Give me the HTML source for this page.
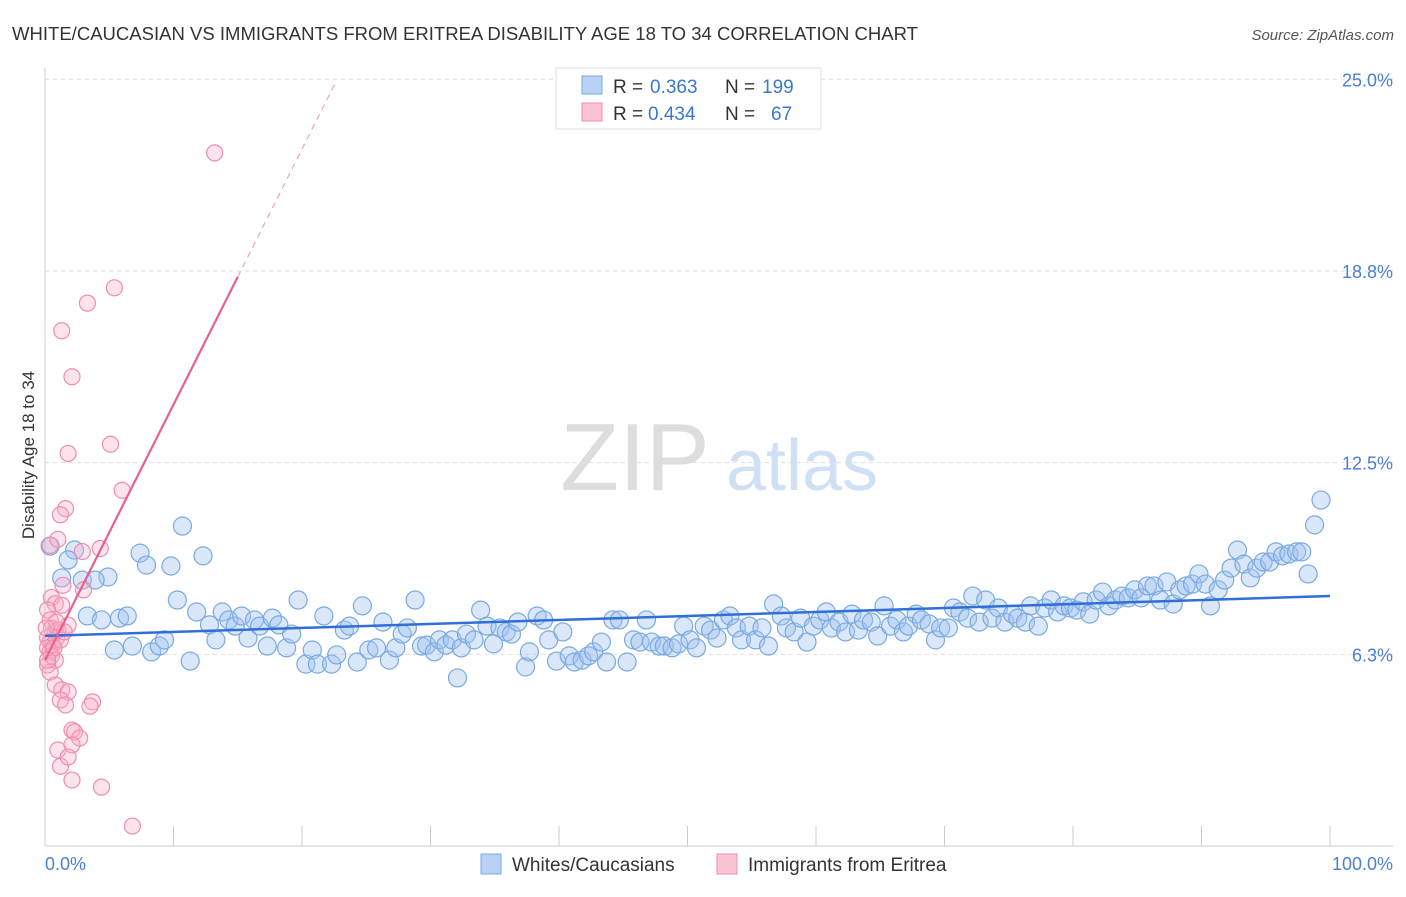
<!DOCTYPE html>
<html><head><meta charset="utf-8"><style>
body{margin:0;background:#fff;font-family:"Liberation Sans",sans-serif}
svg text{font-family:"Liberation Sans",sans-serif}
</style></head><body>
<svg id="c" width="1406" height="892">
<text x="12" y="40" font-size="18" fill="#333" textLength="906" lengthAdjust="spacingAndGlyphs">WHITE/CAUCASIAN VS IMMIGRANTS FROM ERITREA DISABILITY AGE 18 TO 34 CORRELATION CHART</text>
<text x="1394" y="40" font-size="15" fill="#555" font-style="italic" text-anchor="end">Source: ZipAtlas.com</text>
<g id="grid"></g>
<g><text x="635" y="490" font-size="96" fill="#ddd" text-anchor="middle" font-family="Liberation Serif">ZIP</text><text x="802" y="490" font-size="72" fill="#cfe0f5" text-anchor="middle">atlas</text></g>
<text transform="translate(34,455) rotate(-90)" font-size="17" fill="#333" text-anchor="middle">Disability Age 18 to 34</text>
<g id="marks"></g>
<g>
<rect x="556" y="68" width="265" height="61" fill="#fff" stroke="#ddd"/>
<rect x="582" y="76" width="20" height="18" fill="#b8d2f5" stroke="#7aa9e0"/>
<text x="613" y="93" font-size="19" fill="#333">R =</text><text x="650" y="93" font-size="19" fill="#3a78d0">0.363</text>
<text x="725" y="93" font-size="19" fill="#333">N =</text><text x="762" y="93" font-size="19" fill="#3a78d0">199</text>
<rect x="582" y="103" width="20" height="18" fill="#fac4d5" stroke="#f08cb0"/>
<text x="613" y="120" font-size="19" fill="#333">R =</text><text x="648" y="120" font-size="19" fill="#3a78d0">0.434</text>
<text x="725" y="120" font-size="19" fill="#333">N =</text><text x="771" y="120" font-size="19" fill="#3a78d0">67</text>
</g>
<g>
<rect x="481" y="854" width="20" height="20" fill="#b8d2f5" stroke="#7aa9e0"/>
<text x="512" y="871" font-size="19" fill="#333">Whites/Caucasians</text>
<rect x="717" y="854" width="20" height="20" fill="#fac4d5" stroke="#f08cb0"/>
<text x="748" y="871" font-size="19" fill="#333">Immigrants from Eritrea</text>
</g>
</svg>
<script>
const blueX=[0.4,1.3,2.3,1.8,3.3,2.9,4.4,4.9,3.9,5.8,6.4,5.4,6.8,7.4,7.9,8.3,8.9,9.3,9.8,10.3,10.7,11.3,11.8,12.3,12.8,13.3,13.8,14.3,14.8,15.3,15.8,16.3,16.7,17.3,17.7,18.2,18.8,19.2,19.7,20.3,20.8,21.2,21.7,22.3,22.7,23.3,23.7,24.3,24.7,25.2,25.8,26.3,26.8,27.3,27.8,28.2,28.8,29.3,29.7,30.3,30.7,31.2,31.7,32.1,32.4,32.8,33.4,33.9,34.4,34.9,35.4,35.9,36.3,36.8,37.4,37.7,38.3,38.8,39.2,39.8,40.3,40.8,41.2,41.8,42.3,42.7,43.3,43.7,44.2,44.7,45.3,45.8,46.3,46.8,47.2,47.8,48.2,48.8,49.3,49.7,50.2,50.7,51.3,51.8,52.3,52.8,53.3,53.8,54.2,54.8,55.3,55.8,56.3,56.7,57.3,57.7,58.3,58.8,59.3,59.8,60.3,60.8,61.2,61.8,62.3,62.8,63.3,63.7,64.3,64.8,65.3,65.8,66.3,66.8,67.2,67.8,68.2,68.8,69.3,69.7,70.3,70.7,71.2,71.8,72.2,72.7,73.2,73.7,74.2,74.7,75.3,75.7,76.3,76.7,77.3,77.8,78.3,78.8,79.3,79.8,80.3,80.8,81.3,81.8,82.3,82.8,83.3,83.8,84.3,84.8,85.3,85.8,86.3,86.8,87.3,87.8,88.3,88.8,89.3,89.8,90.3,90.7,91.3,91.8,92.3,92.8,93.3,93.8,94.3,94.8,95.3,95.8,96.3,96.8,97.4,97.8,98.3,98.8,99.3];
const blueY=[9.78,8.74,9.65,9.33,7.5,8.67,7.37,8.77,8.67,7.43,7.5,6.39,6.52,9.55,9.16,6.33,6.52,6.72,9.13,8.02,10.43,6.03,7.63,9.46,7.21,6.72,7.63,7.37,7.17,7.5,6.78,7.37,7.17,6.52,7.43,7.21,6.46,6.91,8.02,5.93,6.39,5.93,7.5,5.93,6.23,7.04,7.17,6.0,7.83,6.39,6.46,7.3,6.06,6.46,6.91,7.11,8.02,6.52,6.55,6.33,6.72,6.55,6.72,5.48,6.46,6.91,6.72,7.69,7.17,6.59,7.11,6.98,6.91,7.3,5.84,6.33,7.5,7.37,6.72,6.03,6.98,6.2,6.0,6.06,6.2,6.33,6.65,6.0,7.37,7.37,6.0,6.72,6.65,7.37,6.65,6.52,6.52,6.46,6.59,7.17,6.72,6.46,7.17,7.04,6.78,7.37,7.5,7.11,6.72,7.17,6.72,7.11,6.52,7.89,7.5,7.11,6.98,7.43,6.65,7.17,7.37,7.63,7.11,7.3,6.98,7.56,7.04,7.37,7.3,6.85,7.83,7.17,7.37,6.98,7.17,7.56,7.37,7.24,6.72,7.11,7.11,7.76,7.63,7.43,8.15,7.3,8.02,7.43,7.76,7.3,7.56,7.43,7.3,7.83,7.17,7.76,8.02,7.63,7.83,7.76,7.69,7.96,7.56,8.02,8.28,7.83,8.02,8.15,8.09,8.35,8.09,8.48,8.48,8.02,8.61,7.89,8.35,8.48,8.54,8.87,8.54,7.83,8.35,8.67,9.06,9.65,9.19,8.74,9.06,9.26,9.26,9.59,9.46,9.52,9.59,9.59,8.87,10.47,11.28];
const pinkX=[0.4,0.5,0.8,1.3,2.1,1.8,1.6,1.2,1.0,1.4,3.3,5.4,13.2,5.1,6.0,4.3,2.9,3.0,1.3,1.8,0.2,0.4,0.5,0.8,0.2,0.4,0.6,0.9,1.2,0.2,0.4,0.5,0.8,0.2,0.4,0.8,1.3,1.8,1.2,1.6,3.7,3.5,2.1,2.3,2.7,2.1,1.0,1.2,1.8,2.1,4.4,6.8,1.0,1.5,0.9,0.1,0.7,0.2];
const pinkY=[9.8,8.1,7.9,16.8,15.3,12.8,11.0,10.8,10.0,8.5,17.7,18.2,22.6,13.1,11.6,9.7,9.6,8.35,7.85,7.2,7.7,7.37,7.1,6.98,6.8,6.65,6.55,6.78,6.72,6.46,6.33,6.2,6.06,5.9,5.67,5.25,5.09,5.02,4.76,4.6,4.7,4.56,3.78,3.72,3.52,3.3,3.13,2.6,2.9,2.15,1.92,0.65,7.04,6.98,7.3,7.11,6.46,6.06];
const yTicks=[6.25,12.5,18.75,25];
const yTickLabels=["6.3%","12.5%","18.8%","25.0%"];
const blueTrend=[6.85,8.15];
const pinkTrend=[6.06,0.833];
const sx=v=>45+v*12.85, sy=v=>846-v*30.67;
const NS="http://www.w3.org/2000/svg";
const svg=document.getElementById('c'),grid=document.getElementById('grid'),marks=document.getElementById('marks');
function mk(tag,at,parent){const e=document.createElementNS(NS,tag);for(const k in at)e.setAttribute(k,at[k]);parent.appendChild(e);return e;}
yTicks.forEach((t,i)=>{
 const l=mk('line',{x1:45,x2:1393,y1:sy(t),y2:sy(t),stroke:'#ddd','stroke-dasharray':'4,4'},grid);
 
 
 const tx=mk('text',{x:1393,y:sy(t)+7,'font-size':18,fill:'#4a7fd4','text-anchor':'end'},grid);
 tx.textContent=yTickLabels[i];
 
 
});
mk('line',{x1:45,x2:1393,y1:846,y2:846,stroke:'#ccc'},grid);
mk('line',{x1:45,x2:45,y1:68,y2:846,stroke:'#ccc'},grid);
for(let i=0;i<=10;i++){mk('line',{x1:sx(i*10),x2:sx(i*10),y1:826,y2:846,stroke:'#ccc'},grid);}
const xl=mk('text',{x:45,y:870,'font-size':18,fill:'#4a7fd4'},grid);xl.textContent='0.0%';


const xr=mk('text',{x:1393,y:870,'font-size':18,fill:'#4a7fd4','text-anchor':'end'},grid);xr.textContent='100.0%';


blueX.forEach((x,i)=>{const c=mk('circle',{cx:sx(x),cy:sy(blueY[i]),r:9,fill:'rgba(160,196,240,0.4)',stroke:'#7aa9e0','stroke-width':1.2},marks);
 
 });
pinkX.forEach((x,i)=>{const c=mk('circle',{cx:sx(x),cy:sy(pinkY[i]),r:8,fill:'rgba(248,175,200,0.35)',stroke:'#f08cb0','stroke-width':1.2},marks);
 
 });
const bt=mk('line',{x1:sx(0),y1:sy(blueTrend[0]),x2:sx(100),y2:sy(blueTrend[1]),stroke:'#2f6fd6','stroke-width':2.5},marks);


const pt=mk('line',{x1:sx(0),y1:sy(pinkTrend[0]),x2:sx(15),y2:sy(pinkTrend[0]+pinkTrend[1]*15),stroke:'#e8608e','stroke-width':2.2},marks);


const pd=mk('line',{x1:sx(15),y1:sy(pinkTrend[0]+pinkTrend[1]*15),x2:sx(22.6),y2:sy(pinkTrend[0]+pinkTrend[1]*22.6),stroke:'#f0a0bc','stroke-width':1.2,'stroke-dasharray':'6,5'},marks);


</script>
</body></html>
